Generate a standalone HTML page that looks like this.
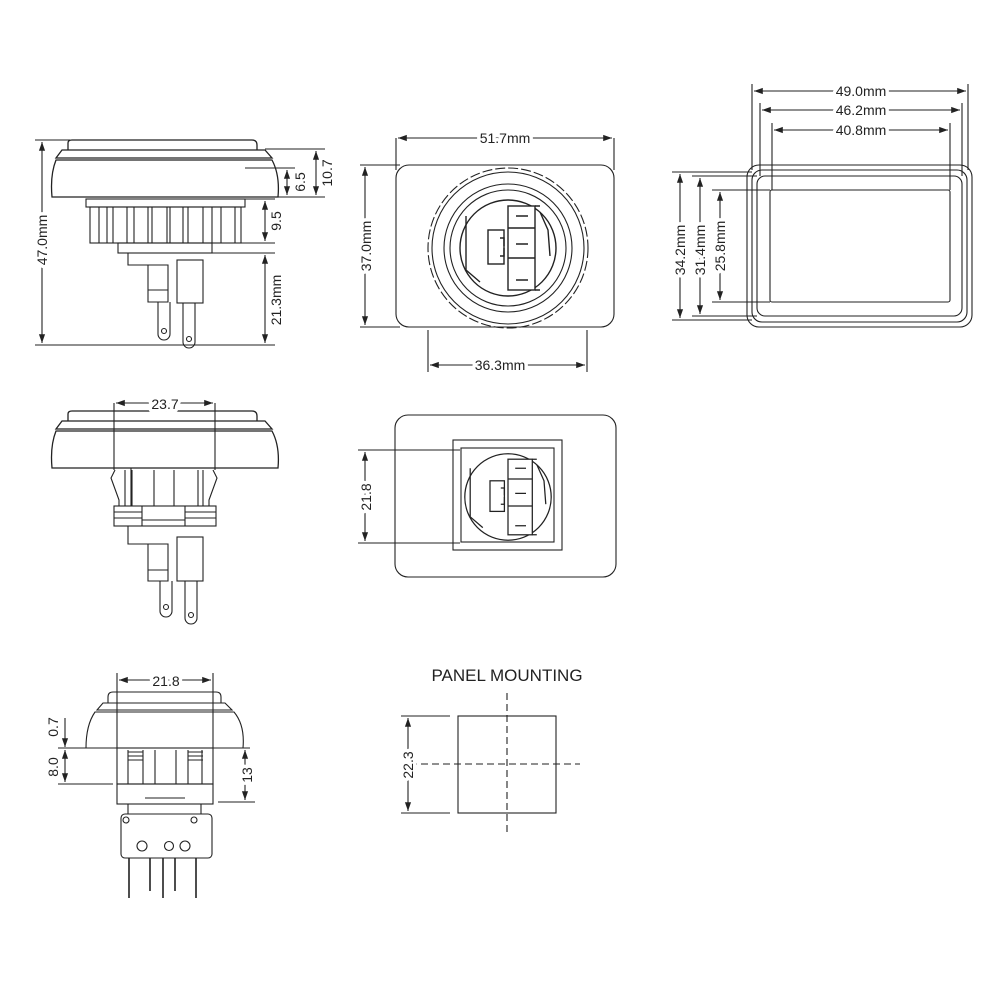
<!DOCTYPE html>
<html><head><meta charset="utf-8"><style>
html,body{margin:0;padding:0;background:#fff}
svg{display:block}
text{font-family:"Liberation Sans",sans-serif;font-size:14px;fill:#222;paint-order:stroke;stroke:#fff;stroke-width:7px;stroke-linejoin:round}
</style></head><body>
<svg width="1000" height="1000" viewBox="0 0 1000 1000" xmlns="http://www.w3.org/2000/svg">
<defs>
<marker id="a" viewBox="0 0 10 10" refX="10" refY="5" markerWidth="8" markerHeight="8" orient="auto-start-reverse"><path d="M0,1.5 L10,5 L0,8.5z" fill="#222"/></marker>
<g id="conn" fill="none" stroke="#222" stroke-width="1.4">
  <circle r="48"/>
  <path d="M-42,-32 L-42,22 M-42,22 L-28,34"/>
  <rect x="-20" y="-18" width="16" height="34"/>
  <path d="M-8,-10 h4 v8 M-8,8 h4 v-8"/>
  <rect x="0" y="-42" width="27" height="84" fill="#fff"/>
  <path d="M0,-20 h27 M0,10 h27 M27,-42 h5 M27,42 h5 M8,-32 h12 M8,-4 h12 M8,32 h12"/>
  <path d="M32,-36 L40,-18 L42,8"/>
</g>
<g id="cap" fill="none" stroke="#222" stroke-width="1.3">
  <path d="M68,150 L68,143 Q68,140 72,140 L252,140 Q257,140 257,145 L257,150"/>
  <path d="M62,150 L265,150 L272,158 L56,158 Z"/>
  <path d="M56,160 L272,160 Q280,175 278,197 L52,197 Q50,175 56,160 Z"/>
</g>
</defs>
<g fill="none" stroke="#222" stroke-width="1.1">
<use href="#cap"/>
<rect x="86" y="199" width="159" height="8"/>
<rect x="90" y="207" width="151" height="36"/>
<path d="M99,207v36 M107,207v36 M113,207v36 M127,207v36 M134,207v36 M148,207v36 M152,207v36 M167,207v36 M170,207v36 M183,207v36 M188,207v36 M203,207v36 M212,207v36 M221,207v36 M235,207v36"/>
<rect x="118" y="243" width="94" height="10"/>
<path d="M128,253 v12 h20 M148,265 h20 v37 h-20 z M148,290 h20"/>
<rect x="177" y="260" width="26" height="43"/>
<path d="M158,302 v32 a6,6 0 0 0 12,0 v-32"/><circle cx="164" cy="331" r="2.5"/>
<path d="M183,303 v39 a6,6 0 0 0 12,0 v-39"/><circle cx="189" cy="339" r="2.5"/>
<path d="M35,140 H70 M35,345 H195 M265,149 H325 M245,197 H325 M245,168 H295 M245,199 H275 M212,243 H275 M212,253 H275 M195,345 H275"/>
<path d="M42,142 V343" marker-start="url(#a)" marker-end="url(#a)"/>
<path d="M287,170 V195" marker-start="url(#a)" marker-end="url(#a)"/>
<path d="M316,151 V195" marker-start="url(#a)" marker-end="url(#a)"/>
<path d="M265,201 V241" marker-start="url(#a)" marker-end="url(#a)"/>
<path d="M265,255 V343" marker-start="url(#a)" marker-end="url(#a)"/>
</g>
<g>
<text transform="translate(47,240) rotate(-90)" text-anchor="middle">47.0mm</text>
<text transform="translate(305,182) rotate(-90)" text-anchor="middle">6.5</text>
<text transform="translate(332,173) rotate(-90)" text-anchor="middle">10.7</text>
<text transform="translate(281,221) rotate(-90)" text-anchor="middle">9.5</text>
<text transform="translate(281,300) rotate(-90)" text-anchor="middle">21.3mm</text>
</g>

<g fill="none" stroke="#222" stroke-width="1.1">
<rect x="396" y="165" width="218" height="162" rx="13"/>
<circle cx="508" cy="248" r="80" stroke-dasharray="10 3"/>
<circle cx="508" cy="248" r="76"/>
<circle cx="508" cy="248" r="64"/>
<circle cx="508" cy="248" r="58"/>
<use href="#conn" x="508" y="248"/>
<path d="M396,138 V170 M614,138 V170 M360,165 H400 M360,327 H400 M428,330 V372 M587,330 V372"/>
<path d="M398,138 H612" marker-start="url(#a)" marker-end="url(#a)"/>
<path d="M365,167 V325" marker-start="url(#a)" marker-end="url(#a)"/>
<path d="M430,365 H585" marker-start="url(#a)" marker-end="url(#a)"/>
</g>
<text x="505" y="143" text-anchor="middle">51.7mm</text>
<text transform="translate(371,246) rotate(-90)" text-anchor="middle">37.0mm</text>
<text x="500" y="370" text-anchor="middle">36.3mm</text>

<g fill="none" stroke="#222" stroke-width="1.1">
<rect x="747" y="165" width="225" height="162" rx="12"/>
<rect x="752" y="170" width="215" height="152" rx="10"/>
<rect x="757" y="176" width="205" height="140" rx="8"/>
<rect x="770" y="190" width="180" height="112" rx="2"/>
<path d="M752,84 V170 M968,84 V170 M760,103 V176 M962,103 V176 M772,123 V190 M950,123 V190"/>
<path d="M672,172 H752 M692,176 H757 M712,190 H770 M672,320 H752 M692,316 H757 M712,302 H770"/>
<path d="M754,91 H966" marker-start="url(#a)" marker-end="url(#a)"/>
<path d="M762,110 H960" marker-start="url(#a)" marker-end="url(#a)"/>
<path d="M774,130 H948" marker-start="url(#a)" marker-end="url(#a)"/>
<path d="M680,174 V318" marker-start="url(#a)" marker-end="url(#a)"/>
<path d="M700,178 V314" marker-start="url(#a)" marker-end="url(#a)"/>
<path d="M720,192 V300" marker-start="url(#a)" marker-end="url(#a)"/>
</g>
<text x="861" y="96" text-anchor="middle">49.0mm</text>
<text x="861" y="115" text-anchor="middle">46.2mm</text>
<text x="861" y="135" text-anchor="middle">40.8mm</text>
<text transform="translate(685,250) rotate(-90)" text-anchor="middle">34.2mm</text>
<text transform="translate(705,250) rotate(-90)" text-anchor="middle">31.4mm</text>
<text transform="translate(725,246) rotate(-90)" text-anchor="middle">25.8mm</text>

<g fill="none" stroke="#222" stroke-width="1.1">
<use href="#cap" y="271"/>
<path d="M114,403 V470 M215,403 V470"/>
<path d="M116,403 H213" marker-start="url(#a)" marker-end="url(#a)"/>
<path d="M115,470 l-4,8 l8,22 v6 M125,470 v36 M132,470 v36 M203,470 v36 M213,470 l4,8 l-8,22 v6 M131,468 V506 M154,470 V506 M174,470 V506 M198,470 V506"/>
<rect x="114" y="506" width="102" height="20"/>
<path d="M142,506 v20 M185,506 v20 M114,512 h28 M114,518 h28 M185,512 h31 M185,518 h31 M142,520 h43"/>
<path d="M128,526 v18 h20 M148,544 h20 v37 h-20 z M148,570 h20"/>
<rect x="177" y="537" width="26" height="44"/>
<path d="M160,581 v30 a6,6 0 0 0 12,0 v-30"/><circle cx="166" cy="607" r="2.5"/>
<path d="M185,581 v37 a6,6 0 0 0 12,0 v-37"/><circle cx="191" cy="615" r="2.5"/>
</g>
<text x="165" y="409" text-anchor="middle">23.7</text>

<g fill="none" stroke="#222" stroke-width="1.1">
<rect x="395" y="415" width="221" height="162" rx="13"/>
<rect x="453" y="440" width="109" height="110"/>
<rect x="461" y="448" width="93" height="94"/>
<use href="#conn" x="508" y="497" transform="translate(508 497) scale(0.9) translate(-508 -497)"/>
<path d="M358,450 H460 M358,543 H460"/>
<path d="M365,452 V541" marker-start="url(#a)" marker-end="url(#a)"/>
</g>
<text transform="translate(371,497) rotate(-90)" text-anchor="middle">21.8</text>

<g fill="none" stroke="#222" stroke-width="1.1">
<path d="M108,703 V697 Q108,692 113,692 L216,692 Q221,692 221,697 V703"/>
<path d="M103,703 L225,703 L232,710 L97,710 Z"/>
<path d="M95,712 L234,712 Q245,725 243,748 L86,748 Q86,725 95,712 Z"/>
<path d="M117,673 V748 M213,673 V748"/>
<path d="M119,680 H211" marker-start="url(#a)" marker-end="url(#a)"/>
<rect x="117" y="748" width="96" height="36"/>
<path d="M128,750 v34 M143,750 v34 M155,750 v34 M176,750 v34 M188,750 v34 M202,750 v34 M128,752 h15 M128,756 h15 M128,760 h15 M188,752 h15 M188,756 h15 M188,760 h15"/>
<rect x="117" y="784" width="96" height="20"/>
<path d="M145,798 h40"/>
<path d="M128,804 v10 M201,804 v10"/>
<path d="M125,814 h83 a4,4 0 0 1 4,4 v36 a4,4 0 0 1 -4,4 h-83 a4,4 0 0 1 -4,-4 v-36 a4,4 0 0 1 4,-4 z"/>
<circle cx="126" cy="820" r="3"/><circle cx="194" cy="820" r="3"/>
<circle cx="142" cy="846" r="5"/><circle cx="169" cy="846" r="4.5"/><circle cx="185" cy="846" r="5"/>
<path d="M129,858 V898 M150,858 V891 M163,858 V898 M175,858 V891 M196,858 V898" stroke-width="1.6"/>
<path d="M58,748 H113 M58,784 H113 M225,748 H250 M218,802 H255"/>
<path d="M65,718 V747" marker-end="url(#a)"/>
<path d="M65,750 V782" marker-start="url(#a)" marker-end="url(#a)"/>
<path d="M245,750 V800" marker-start="url(#a)" marker-end="url(#a)"/>
</g>
<text x="166" y="686" text-anchor="middle">21.8</text>
<text transform="translate(58,727) rotate(-90)" text-anchor="middle">0.7</text>
<text transform="translate(58,767) rotate(-90)" text-anchor="middle">8.0</text>
<text transform="translate(252,775) rotate(-90)" text-anchor="middle">13</text>

<text x="507" y="681" text-anchor="middle" style="font-size:17px">PANEL MOUNTING</text>
<g fill="none" stroke="#222" stroke-width="1.1">
<rect x="458" y="716" width="98" height="97"/>
<path d="M507,693 V835 M410,764 H580" stroke-dasharray="7 4"/>
<path d="M401,716 H450 M401,813 H450"/>
<path d="M408,718 V811" marker-start="url(#a)" marker-end="url(#a)"/>
</g>
<text transform="translate(413,765) rotate(-90)" text-anchor="middle">22.3</text>
</svg>
</body></html>
